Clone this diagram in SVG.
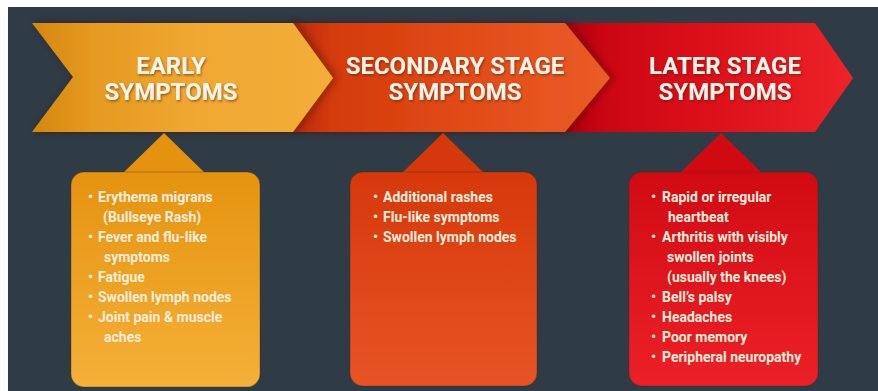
<svg xmlns="http://www.w3.org/2000/svg" width="878" height="391" viewBox="0 0 878 391">
<defs>
<linearGradient id="a1" x1="32" y1="0" x2="333" y2="0" gradientUnits="userSpaceOnUse">
<stop offset="0" stop-color="#d4870e"/><stop offset="0.2" stop-color="#e59a20"/><stop offset="0.55" stop-color="#f0a832"/><stop offset="1" stop-color="#f3ad38"/>
</linearGradient>
<linearGradient id="a2" x1="293" y1="0" x2="610" y2="0" gradientUnits="userSpaceOnUse">
<stop offset="0" stop-color="#b82a06"/><stop offset="0.12" stop-color="#d43a0a"/><stop offset="0.5" stop-color="#e04a16"/><stop offset="1" stop-color="#ea5c26"/>
</linearGradient>
<linearGradient id="a3" x1="565" y1="0" x2="853" y2="0" gradientUnits="userSpaceOnUse">
<stop offset="0" stop-color="#a8000c"/><stop offset="0.14" stop-color="#cc0612"/><stop offset="0.5" stop-color="#dc1019"/><stop offset="1" stop-color="#ee2329"/>
</linearGradient>
<linearGradient id="b1" x1="0" y1="0" x2="0" y2="1">
<stop offset="0" stop-color="#e5930f"/><stop offset="1" stop-color="#f5b038"/>
</linearGradient>
<linearGradient id="b2" x1="0" y1="0" x2="0" y2="1">
<stop offset="0" stop-color="#d6380a"/><stop offset="1" stop-color="#e85424"/>
</linearGradient>
<linearGradient id="b3" x1="0" y1="0" x2="0" y2="1">
<stop offset="0" stop-color="#d10a12"/><stop offset="1" stop-color="#ec2127"/>
</linearGradient>
<filter id="ts" x="-10%" y="-20%" width="120%" height="150%">
<feDropShadow dx="1" dy="1.5" stdDeviation="1" flood-color="#5a2000" flood-opacity="0.55"/>
</filter>
<filter id="sh" x="-10%" y="-10%" width="130%" height="120%">
<feDropShadow dx="3" dy="0" stdDeviation="4" flood-color="#3a0a00" flood-opacity="0.5"/>
</filter>
</defs>
<style>
.head{font-family:Roboto,"Liberation Sans",sans-serif;font-weight:700;font-size:24px;fill:#fdf4ea;text-anchor:middle;}
.item{font-family:Roboto,"Liberation Sans",sans-serif;font-weight:700;font-size:14px;fill:#fbeedd;}
.box{stroke:#3a2a20;stroke-opacity:0.35;stroke-width:1;}
</style>
<rect x="0" y="0" width="878" height="391" fill="#ffffff"/>
<rect x="8" y="7" width="870" height="384" fill="#2f3b45"/>

<g id="later-stage">
<polygon points="555,23 815,23 853,78 815,132 555,132" fill="url(#a3)"/>
<polygon points="721,133 762,173 680,173" fill="#d10a12"/>
<rect class="box" x="629" y="172" width="189" height="214" rx="13" fill="url(#b3)"/>
<text class="head" filter="url(#ts)"><tspan x="725" y="74">LATER STAGE</tspan><tspan x="725" y="100">SYMPTOMS</tspan></text>
<text class="item">
<tspan x="651" y="202">•</tspan><tspan x="662" y="202">Rapid or irregular</tspan>
<tspan x="668" y="222">heartbeat</tspan>
<tspan x="651" y="242">•</tspan><tspan x="662" y="242">Arthritis with visibly</tspan>
<tspan x="667" y="262">swollen joints</tspan>
<tspan x="667" y="282">(usually the knees)</tspan>
<tspan x="651" y="302">•</tspan><tspan x="662" y="302">Bell’s palsy</tspan>
<tspan x="651" y="322">•</tspan><tspan x="662" y="322">Headaches</tspan>
<tspan x="651" y="342">•</tspan><tspan x="662" y="342">Poor memory</tspan>
<tspan x="651" y="362">•</tspan><tspan x="662" y="362">Peripheral neuropathy</tspan>
</text>
</g>

<g id="secondary-stage">
<polygon points="290,23 565,23 610,78 565,132 290,132" fill="url(#a2)" filter="url(#sh)"/>
<polygon points="443,133 484,173 402,173" fill="#d5380a"/>
<rect class="box" x="350" y="172" width="187" height="214" rx="13" fill="url(#b2)"/>
<text class="head" filter="url(#ts)"><tspan x="455" y="74">SECONDARY STAGE</tspan><tspan x="455" y="100">SYMPTOMS</tspan></text>
<text class="item">
<tspan x="373" y="202">•</tspan><tspan x="383" y="202">Additional rashes</tspan>
<tspan x="373" y="222">•</tspan><tspan x="383" y="222">Flu-like symptoms</tspan>
<tspan x="373" y="242">•</tspan><tspan x="383" y="242">Swollen lymph nodes</tspan>
</text>
</g>

<g id="early">
<polygon points="32,23 293,23 333,78 293,132 32,132 73,77" fill="url(#a1)" filter="url(#sh)"/>
<polygon points="164,133 205,173 123,173" fill="#e4920f"/>
<rect class="box" x="71" y="172" width="189" height="215" rx="13" fill="url(#b1)"/>
<text class="head" filter="url(#ts)"><tspan x="171" y="74">EARLY</tspan><tspan x="171" y="100">SYMPTOMS</tspan></text>
<text class="item">
<tspan x="88" y="202">•</tspan><tspan x="98" y="202">Erythema migrans</tspan>
<tspan x="103" y="222">(Bullseye Rash)</tspan>
<tspan x="88" y="242">•</tspan><tspan x="98" y="242">Fever and flu-like</tspan>
<tspan x="104" y="262">symptoms</tspan>
<tspan x="88" y="282">•</tspan><tspan x="98" y="282">Fatigue</tspan>
<tspan x="88" y="302">•</tspan><tspan x="98" y="302">Swollen lymph nodes</tspan>
<tspan x="88" y="322">•</tspan><tspan x="98" y="322">Joint pain &amp; muscle</tspan>
<tspan x="104" y="342">aches</tspan>
</text>
</g>
</svg>
